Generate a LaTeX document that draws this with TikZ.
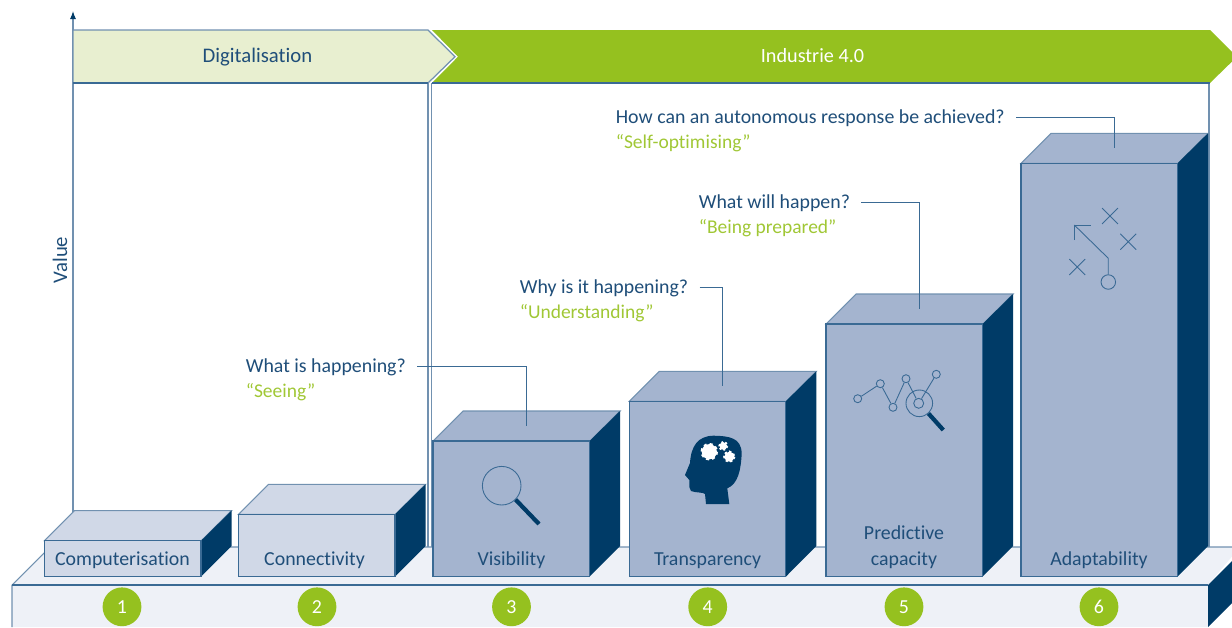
\documentclass[tikz,border=0pt]{standalone}
\usepackage{fontspec}
\setmainfont[Ligatures=NoCommon]{Carlito}
\usetikzlibrary{arrows.meta,positioning,shapes.misc}
\definecolor{navy}{HTML}{003B67}
\definecolor{inkblue}{HTML}{1F4E79}
\definecolor{edgeblue}{HTML}{3A6A94}
\definecolor{softblue}{HTML}{7191B0}
\definecolor{midblue}{HTML}{A4B4CF}
\definecolor{paleblue}{HTML}{D0D8E7}
\definecolor{plateblue}{HTML}{EEF1F7}
\definecolor{leaf}{HTML}{95C11F}
\definecolor{paleleaf}{HTML}{E8EFD0}
\tikzset{
  every node/.style={font=\fontsize{11.3}{13}\selectfont, text=inkblue},
  blockpale/.style={fill=paleblue},
  blockmid/.style={fill=midblue},
  banner/.style={font=\fontsize{11.8}{13}\selectfont},
  question/.style={inner sep=0pt, anchor=base west},
  answer/.style={inner sep=0pt, anchor=base west, text=leaf!90!white, font=\fontsize{11.1}{13}\selectfont},
  callout/.style={edgeblue, line width=0.6pt, shorten <=0.22cm},
  step number/.style={circle, fill=leaf, minimum size=0.776cm, inner sep=0pt, text=white},
  icon line/.style={edgeblue, line width=0.5pt},
  icon handle/.style={navy, line width=2.4pt},
  dot/.style={circle, draw=edgeblue, line width=0.5pt, minimum size=0.16cm, inner sep=0pt}
}
\begin{document}
\begin{tikzpicture}[x=0.02cm, y=-0.02cm]
    \useasboundingbox (0,0) rectangle (1232,627);
    \clip (0,0) rectangle (1232,627);
    % base plate
    \fill [plateblue] (12,585) -- (50,547) -- (1240,547) -- (1208,585) -- (1208,627) -- (12,627) -- cycle;
    \draw [softblue, line width=0.6pt] (12,627) -- (12,585) -- (50,547) -- (1240,547);
    \draw [edgeblue, line width=0.6pt] (12,585) -- (1208,585);
    \fill [navy] (1208,585) -- (1240,553) -- (1240,595) -- (1208,627) -- cycle;
    % frames behind the blocks
    \draw [softblue, line width=0.6pt] (428,83) -- (428,547) (431.5,83) -- (431.5,547) (1209,83) -- (1209,547);
    \draw [-{Latex[length=0.16cm, width=0.12cm, color=navy, fill=navy]}, softblue, line width=0.6pt] (73,512) -- (73,11);
    \draw [draw=softblue, fill=paleleaf, line width=0.7pt] (73,30) -- (428,30) -- (455,56.7) -- (428,83) -- (73,83) -- cycle;
    \fill [leaf] (432,30) -- (1210,30) -- (1237,56.7) -- (1210,83) -- (432,83) -- (458,56.7) -- cycle;
    \draw [edgeblue, line width=0.6pt] (73,83) -- (428,83) (432,83) -- (1210,83);
    \node [banner] (digital) at (257.5,57) {Digitalisation};
    \node [text=white, font=\fontsize{11.5}{13}\selectfont] (industrie) at (812.5,56) {Industrie 4.0};
    \node [banner, rotate=90] (value) at (60,260) {Value};
    % blocks: number / left / front top / style
    \foreach \n/\x/\y/\look in {1/44.5/540.7/blockpale, 2/238.5/514.3/blockpale, 3/433/441/blockmid,
                                4/629.3/401.3/blockmid, 5/826/324/blockmid, 6/1021/163.3/blockmid} {
      \coordinate (top\n) at (\x+93.5,\y-15);
      \draw [\look, draw=softblue, line width=0.6pt] (\x,\y) -- ++(30,-30) -- ++(157,0) -- ++(-30,30) -- cycle;
      \fill [navy] (\x+156.5,\y) -- ++(30.5,-30) -- (\x+187,546) -- (\x+156.5,576.7) -- cycle;
      \draw [\look, draw=edgeblue, line width=0.6pt] (\x,\y) rectangle (\x+156.5,576.7);
    }
    % numbers
    \foreach \n/\x in {1/122, 2/317, 3/511.5, 4/707.7, 5/904, 6/1099}
      \node [step number] (num\n) at (\x,606.8) {\n};
    % block names
    \node (computerisation) at (122.5,560) {Computerisation};
    \node (connectivity) at (314.5,560) {Connectivity};
    \node (visibility) at (511.5,560) {Visibility};
    \node (transparency) at (707.5,561) {Transparency};
    \node [align=center] (predictive) at (904,547) {Predictive\\[1.6pt]capacity};
    \node (adaptability) at (1099,560) {Adaptability};
    % questions
    \node [question] (q3) at (245.5,372) {What is happening?};
    \node [answer] (a3) at ([yshift=-0.51cm]q3.base west) {“Seeing”};
    \node [question] (q4) at (519.5,293) {Why is it happening?};
    \node [answer] (a4) at ([yshift=-0.51cm]q4.base west) {“Understanding”};
    \node [question] (q5) at (698.5,208) {What will happen?};
    \node [answer] (a5) at ([yshift=-0.51cm]q5.base west) {“Being prepared”};
    \node [question] (q6) at (615.5,123) {How can an autonomous response be achieved?};
    \node [answer] (a6) at ([yshift=-0.51cm]q6.base west) {“Self-optimising”};
    \foreach \n in {3,4,5,6}
      \draw [callout] (q\n.east) -| (top\n);
    % magnifier
    \node [circle, draw=edgeblue, line width=0.5pt, minimum size=0.772cm, inner sep=0pt] (lens) at (501.7,485.7) {};
    \coordinate (lensend) at (539,524);
    \draw [icon handle] (lens.-45) -- (lensend);
    % head
    \fill [navy] (706,504) -- (729.3,504) -- (727.3,488.3) .. controls (738,484) and (741,470) .. (741.7,453)
      .. controls (741,438) and (730,436) .. (713.3,435.7) .. controls (698,436) and (691,446) .. (690,463)
      -- (685,475) -- (689.3,480) -- (689.3,487) -- (691,491) .. controls (696,493) and (703,492) .. (705,494) -- cycle;
    \foreach \n/\x/\y/\r/\d in {a/709.3/451.7/7.6/1.7, b/723.3/446/3.8/1.1, c/729.3/456.7/5/1.3} {
      \node [circle, fill=white, minimum size=\r*0.04cm, inner sep=0pt] (gear\n) at (\x,\y) {};
      \draw [white, line width=1.3pt, dash pattern=on \d pt off \d pt] (gear\n) circle [radius=\r];
    }
    % chart
    \node [dot] (p1) at (857.7,398.7) {};
    \node [dot] (p2) at (880.3,383.7) {};
    \node [dot] (p3) at (893,407.3) {};
    \node [dot] (p4) at (906,378.7) {};
    \node [dot, minimum size=0.2cm] (p5) at (918.7,403.3) {};
    \node [dot] (p6) at (936.3,374.3) {};
    \draw [icon line] (p1) -- (p2) -- (p3) -- (p4) -- (p5) -- (p6);
    \node [circle, draw=edgeblue, line width=0.5pt, minimum size=0.532cm, inner sep=0pt] (chartlens) at (919.3,403.3) {};
    \coordinate (chartend) at (943.3,430);
    \draw [icon handle] (chartlens.-48) -- (chartend);
    % moves
    \node [dot, minimum size=0.29cm] (start) at (1108.3,282) {};
    \coordinate (bend) at (1108.3,258.3);
    \coordinate (tip) at (1074.3,225);
    \draw [icon line] (start) -- (bend) -- (tip);
    \draw [icon line] (1074.3,240) -- (tip) -- (1090.7,225);
    \foreach \n/\x/\y in {a/1110/216, b/1128.3/241.7, c/1077.3/267}
      \node [cross out, draw=edgeblue, line width=0.5pt, minimum size=0.3cm, inner sep=0pt] (mark\n) at (\x,\y) {};
  \end{tikzpicture}
\end{document}
